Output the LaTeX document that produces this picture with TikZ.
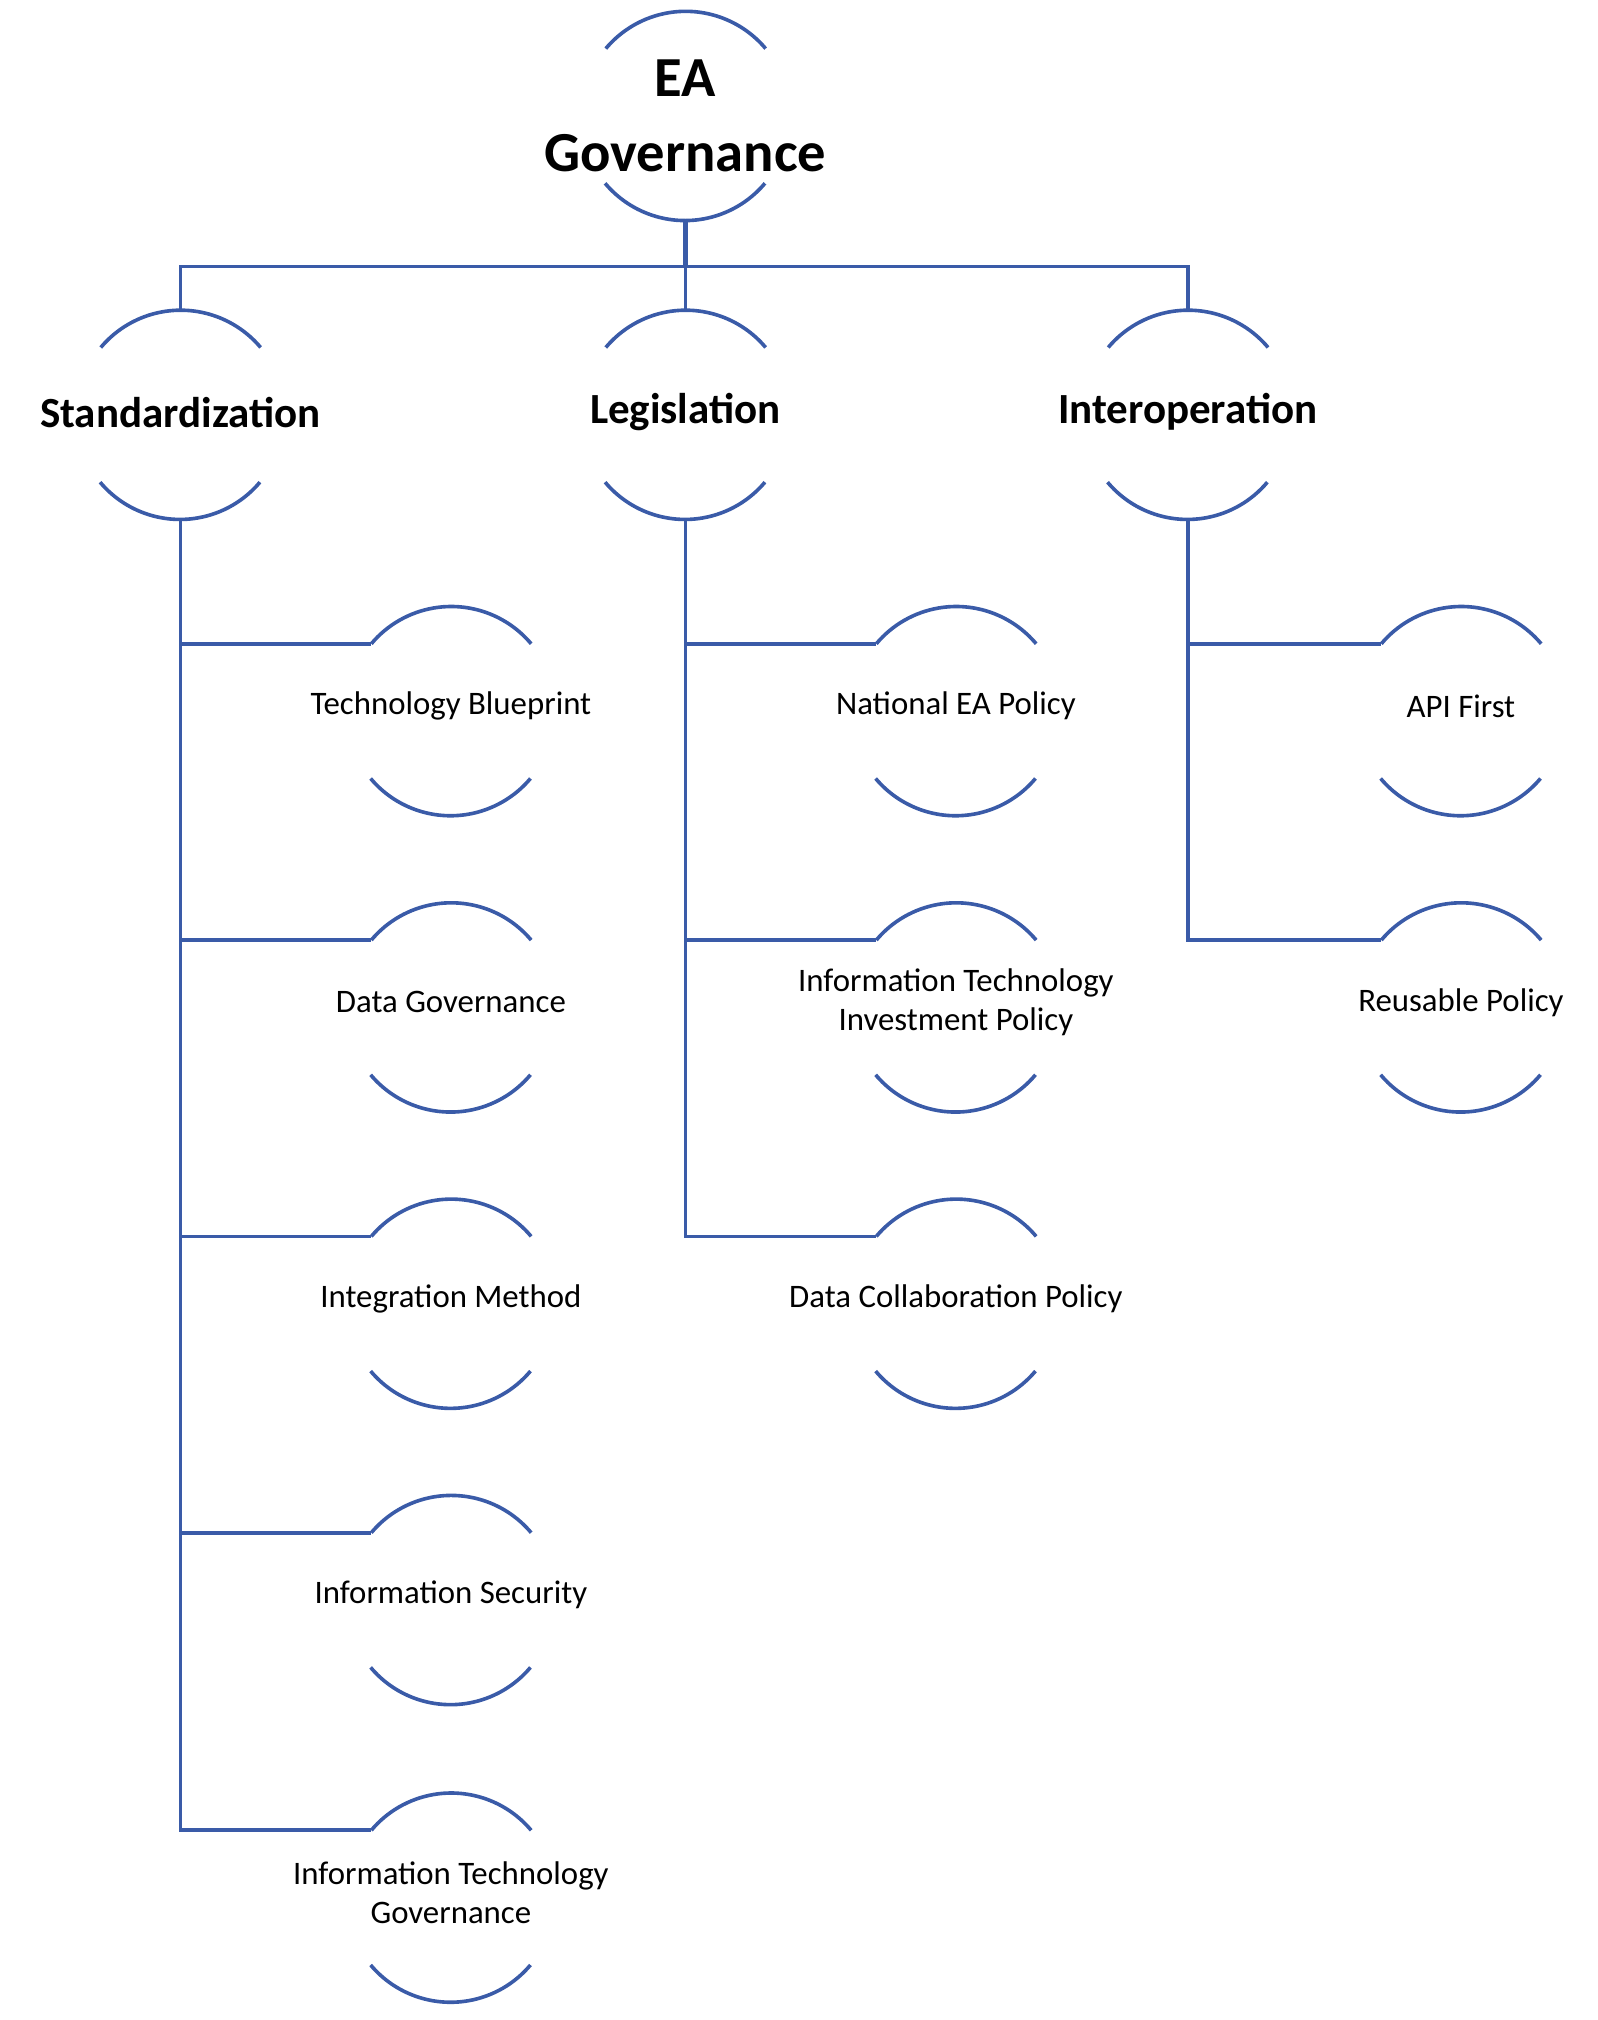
\documentclass[tikz,border=0pt]{standalone}
\usepackage{fontspec}
\setmainfont{Carlito}
\definecolor{ln}{HTML}{3A5BA8}
\begin{document}
\begin{tikzpicture}[x=0.02cm,y=-0.02cm,
  ring/.style={circle,draw=none,inner sep=0pt,minimum size=3.24cm},
  arcst/.style={draw=ln,line width=1.6pt},
  conn/.style={draw=ln,line width=1.6pt},
  small/.style={font=\fontsize{14.5}{17}\selectfont,align=center},
  head/.style={font=\fontsize{19}{22}\selectfont\bfseries,align=center},
  top/.style={font=\fontsize{25}{33}\selectfont\bfseries,align=center}]
\useasboundingbox (0,0) rectangle (1240,1568);
% rings
\foreach \n/\x/\y in {root/532/90, st/140/322, le/532/322, io/922/322,
  s1/350/552, s2/350/782, s3/350/1012, s4/350/1242, s5/350/1473,
  l1/742/552, l2/742/782, l3/742/1012, i1/1134/552, i2/1134/782}{
  \node[ring] (\n) at (\x,\y) {};
  \draw[arcst] (\n.40) arc(40:140:1.62cm);
  \draw[arcst] (\n.-140) arc(-140:-40:1.62cm);
}
% labels
\node[top] at (root) {EA\\Governance};
\node[head] at ([yshift=0.04cm]st) {Standardization};
\node[head] at ([yshift=0.04cm]le) {Legislation};
\node[head] at ([yshift=0.04cm]io) {Interoperation};
\node[small] at ([yshift=0.08cm]s1) {Technology Blueprint};
\node[small] at ([yshift=0.08cm]s2) {Data Governance};
\node[small] at ([yshift=0.08cm]s3) {Integration Method};
\node[small] at ([yshift=0.08cm]s4) {Information Security};
\node[small] at ([yshift=0.08cm]s5) {Information Technology\\Governance};
\node[small] at ([yshift=0.08cm]l1) {National EA Policy};
\node[small] at ([yshift=0.08cm]l2) {Information Technology\\Investment Policy};
\node[small] at ([yshift=0.08cm]l3) {Data Collaboration Policy};
\node[small] at ([yshift=0.08cm]i1) {API First};
\node[small] at ([yshift=0.08cm]i2) {Reusable Policy};
% connectors
\coordinate (hub) at (532,207);
\draw[conn,line width=2.4pt] (root.south) -- (hub);
\draw[conn] (hub) -| (st.north);
\draw[conn] (hub) -- (le.north);
\draw[conn] (hub) -| (io.north);
\foreach \p/\c in {st/s1, st/s2, st/s3, st/s4, st/s5, le/l1, le/l2, le/l3, io/i1, io/i2}{
  \draw[conn] (\p.south) |- (\c.140);
}
\end{tikzpicture}
\end{document}
